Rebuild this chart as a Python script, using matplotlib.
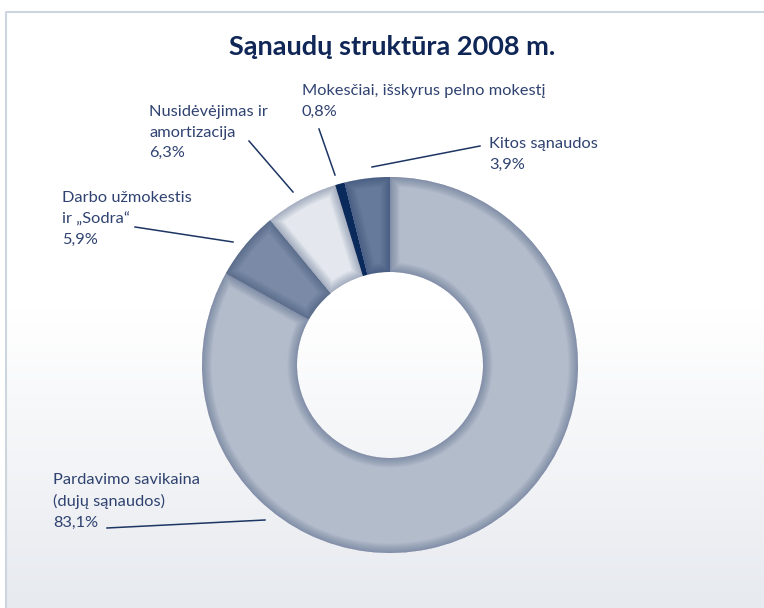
import numpy as np
import matplotlib.pyplot as plt
from matplotlib.patches import Wedge
from matplotlib.colors import LinearSegmentedColormap

# duomenys
labels = ['Pardavimo savikaina\n(dujų sąnaudos)', 'Darbo užmokestis\nir „Sodra“',
          'Nusidėvėjimas ir\namortizacija', 'Mokesčiai, išskyrus pelno mokestį', 'Kitos sąnaudos']
values = [83.1, 5.9, 6.3, 0.8, 3.9]
colors = ['#b3bccb', '#7b8ba7', '#e4e8ee', '#0b2a5c', '#667b9b']

W, H = 764, 608
txt_c = '#2f4270'
line_c = '#1d3563'

plt.rcParams['font.family'] = ['Lato', 'DejaVu Sans']

fig = plt.figure(figsize=(W / 100, H / 100), dpi=100)
ax = fig.add_axes([0, 0, 1, 1])

# fonas su gradientu
grad = np.linspace(0, 1, 200).reshape(-1, 1)
cmap = LinearSegmentedColormap.from_list('bg', ['#ffffff', '#ffffff', '#e7eaef'])
ax.imshow(grad, cmap=cmap, extent=(5, W, 0, H - 12), aspect='auto', zorder=0)
ax.plot([5.5, 5.5, W], [0, H - 11.5, H - 11.5], color='#cdd5df', lw=1.5, zorder=1)

# žiedas
cx, cy = 390, H - 365
wedges, _ = ax.pie(values, colors=colors, startangle=90, counterclock=False,
                   radius=188, center=(cx, cy), frame=True,
                   wedgeprops=dict(width=95, linewidth=0))
for w in wedges:
    w.set_zorder(2)
    # šešėliuoti kraštai
    for lw in np.arange(1, 15, 1.0):
        e = ax.add_patch(Wedge(w.center, w.r, w.theta1, w.theta2, width=w.width,
                               facecolor='none', edgecolor='#1b3263', lw=lw,
                               alpha=0.022, zorder=3))
        e.set_clip_path(w)
ax.set_xlim(0, W)
ax.set_ylim(0, H)
ax.set_aspect('equal')
ax.axis('off')

# pavadinimas
ax.text(392, H - 47, 'Sąnaudų struktūra 2008 m.', ha='center', va='center',
        fontsize=19.5, fontweight='bold', color='#0f2656')

# etiketės
fs = 11.8
ls = 1.6
kw = dict(ha='left', va='top', fontsize=fs, color=txt_c, linespacing=ls)
pct = [f'{v:.1f}'.replace('.', ',') + '%' for v in values]
ax.text(53, H - 473, labels[0] + '\n' + pct[0], **kw)
ax.text(62, H - 191, labels[1] + '\n' + pct[1], **kw)
ax.text(149, H - 105, labels[2] + '\n' + pct[2], **kw)
ax.text(302, H - 84, labels[3] + '\n' + pct[3], **kw)
ax.text(489, H - 137, labels[4] + '\n' + pct[4], **kw)

# linijos
leaders = [((107, 528), (265, 520)), ((135, 227), (233, 242)), ((249, 141), (293, 192)),
           ((319, 129), (335, 175)), ((480, 146), (372, 167))]
for (x1, y1), (x2, y2) in leaders:
    ax.plot([x1, x2], [H - y1, H - y2], color=line_c, lw=1.1, zorder=4)

fig.savefig('out.png', dpi=100)
